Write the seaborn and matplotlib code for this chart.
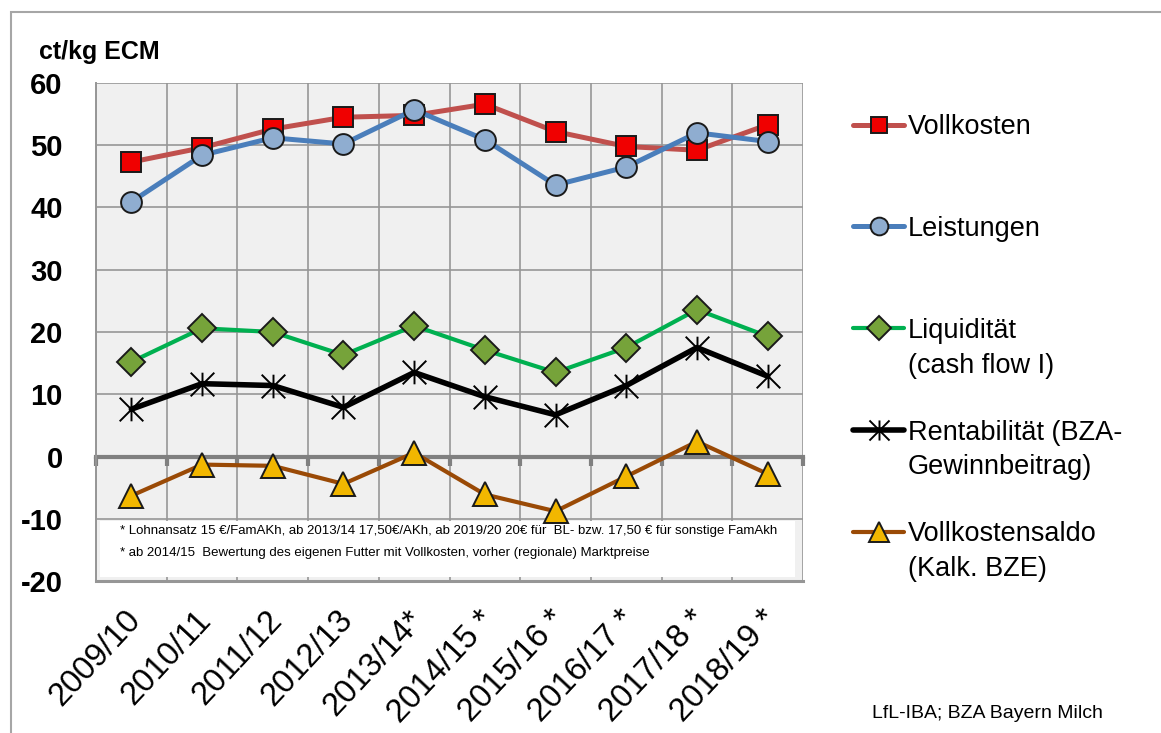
import numpy as np
import pandas as pd
import matplotlib
matplotlib.use('Agg')
import matplotlib.pyplot as plt
import seaborn as sns
from matplotlib.path import Path
from matplotlib.patches import Rectangle
from matplotlib.transforms import ScaledTranslation

## Daten (ct/kg ECM)
years = ['2009/10', '2010/11', '2011/12', '2012/13', '2013/14*',
         '2014/15 *', '2015/16 *', '2016/17 *', '2017/18 *', '2018/19 *']
vollkosten = [47.3, 49.6, 52.6, 54.5, 54.8, 56.6, 52.2, 49.8, 49.2, 53.3]
leistungen = [40.9, 48.4, 51.2, 50.2, 55.7, 50.9, 43.6, 46.5, 52.0, 50.6]
liquiditaet = [15.2, 20.6, 20.0, 16.3, 21.0, 17.1, 13.5, 17.5, 23.6, 19.3]
rentabilitaet = [7.6, 11.7, 11.4, 7.9, 13.5, 9.6, 6.7, 11.4, 17.5, 12.9]
vollkostensaldo = [-6.3, -1.3, -1.5, -4.4, 0.6, -6.1, -8.8, -3.2, 2.4, -2.8]

labels = ['Vollkosten', 'Leistungen', 'Liquidität', 'Rentabilität (BZA-', 'Vollkostensaldo']
labels2 = ['', '', '(cash flow I)', 'Gewinnbeitrag)', '(Kalk. BZE)']
footnote1 = '* Lohnansatz 15 €/FamAKh, ab 2013/14 17,50€/AKh, ab 2019/20 20€ für  BL- bzw. 17,50 € für sonstige FamAkh'
footnote2 = '* ab 2014/15  Bewertung des eigenen Futter mit Vollkosten, vorher (regionale) Marktpreise'

sns.set_style('white')
plt.rcParams['font.family'] = ['Liberation Sans', 'DejaVu Sans']
plt.rcParams['text.color'] = 'black'
plt.rcParams['xtick.labelcolor'] = 'black'
plt.rcParams['ytick.labelcolor'] = 'black'

W, H = 1161, 733
fig = plt.figure(figsize=(W / 100, H / 100), dpi=100)
ax = fig.add_axes([96 / W, 152 / H, 707 / W, 498 / H])
ax.set_facecolor('#F0F0F0')

star = Path([(0, -1), (0, 1), (-1, -1), (1, 1), (-1, 1), (1, -1)],
            [Path.MOVETO, Path.LINETO, Path.MOVETO, Path.LINETO, Path.MOVETO, Path.LINETO])

x = np.arange(len(years))
serien = [vollkosten, leistungen, liquiditaet, rentabilitaet, vollkostensaldo]
linecol = ['#C0504D', '#4A7EBB', '#00B050', '#000000', '#9A4A06']
facecol = ['#F00000', '#8FADD0', '#76A33A', '#000000', '#F2B700']
marker = ['s', 'o', 'D', star, '^']
msize = [14, 15, 14, 17, 17]
lw = [3.6, 3.6, 3.0, 4.0, 3.0]

for i, vals in enumerate(serien):
    sns.lineplot(x=x, y=vals, ax=ax, color=linecol[i], lw=lw[i], marker=marker[i],
                 markersize=msize[i], markerfacecolor=facecol[i],
                 markeredgecolor='#1A1A1A' if i != 3 else '#000000',
                 markeredgewidth=1.4, label=labels[i], zorder=3 + i * 0.01, legend=False)

ax.set_xlim(-0.5, len(years) - 0.5)
ax.set_ylim(-20, 60)
ax.set_yticks(range(-20, 61, 10))
ax.set_yticklabels([str(v) for v in range(-20, 61, 10)], fontsize=21, fontweight='bold')
ax.set_xticks(x)
ax.set_xticklabels(years, rotation=47, ha='right', va='top', rotation_mode='anchor', fontsize=23.5)
ax.set_xticks(np.arange(-0.5, len(years)), minor=True)
ax.tick_params(axis='x', which='both', length=0, pad=17)
ax.tick_params(axis='y', length=8, width=1.2, color='#969696', pad=16, direction='out')
for lab in ax.get_xticklabels():
    lab.set_transform(lab.get_transform() + ScaledTranslation(-0.07, 0, fig.dpi_scale_trans))

ax.set_axisbelow(True)
ax.grid(True, which='major', axis='y', color='#969696', lw=1.2)
ax.grid(True, which='minor', axis='x', color='#969696', lw=1.2)
for s in ['top', 'right']:
    ax.spines[s].set_visible(False)
ax.spines['left'].set_color('#969696')
ax.spines['left'].set_linewidth(1.4)
ax.spines['bottom'].set_color('#969696')
ax.spines['bottom'].set_linewidth(2.2)
ax.set_xlabel('')
ax.set_ylabel('')

# Nulllinie mit Teilstrichen
sec = ax.secondary_xaxis((0 - (-20)) / 80)
sec.set_xticks(np.arange(-0.5, len(years)))
sec.set_xticklabels([''] * (len(years) + 1))
sec.tick_params(length=6.5, width=3, color='#808080', direction='out')
sec.spines['bottom'].set_color('#808080')
sec.spines['bottom'].set_linewidth(3)
sec.set_zorder(2)

# Fussnote
ax.add_patch(Rectangle((0.006, 0.008), 0.983, 0.112, transform=ax.transAxes,
                       facecolor='white', edgecolor='none', zorder=1.5))
ax.text(0.034, 0.100, footnote1, transform=ax.transAxes, fontsize=9.5,
        va='center', zorder=1.6)
ax.text(0.034, 0.056, footnote2, transform=ax.transAxes, fontsize=9.5,
        va='center', zorder=1.6)

# Legende
handles = ax.get_lines()[:len(labels)]
leg = fig.legend(handles, labels, loc='upper left', bbox_to_anchor=(853 / W, 1 - 114 / H),
                 frameon=False, fontsize=19.5, handlelength=1.9, handletextpad=0.12,
                 labelspacing=2.8, borderpad=0, borderaxespad=0, markerscale=0.85)
fig.canvas.draw()
renderer = fig.canvas.get_renderer()
for t, extra in zip(leg.get_texts(), labels2):
    if extra:
        bb = t.get_window_extent(renderer)
        fig.text(bb.x0 / W, (bb.y0 - 35) / H, extra, fontsize=19.5, va='bottom', ha='left')

fig.text(39 / W, 1 - 59 / H, 'ct/kg ECM', fontsize=18, fontweight='bold', va='baseline')
fig.text(872 / W, 1 - 713 / H, 'LfL-IBA; BZA Bayern Milch', fontsize=14, va='center')

fig.add_artist(Rectangle((11 / W, -0.1), 1.2, 1.1 - 12 / H, transform=fig.transFigure,
                         facecolor='none', edgecolor='#A6A6A6', lw=1.5))

fig.savefig('out.png', dpi=100)
